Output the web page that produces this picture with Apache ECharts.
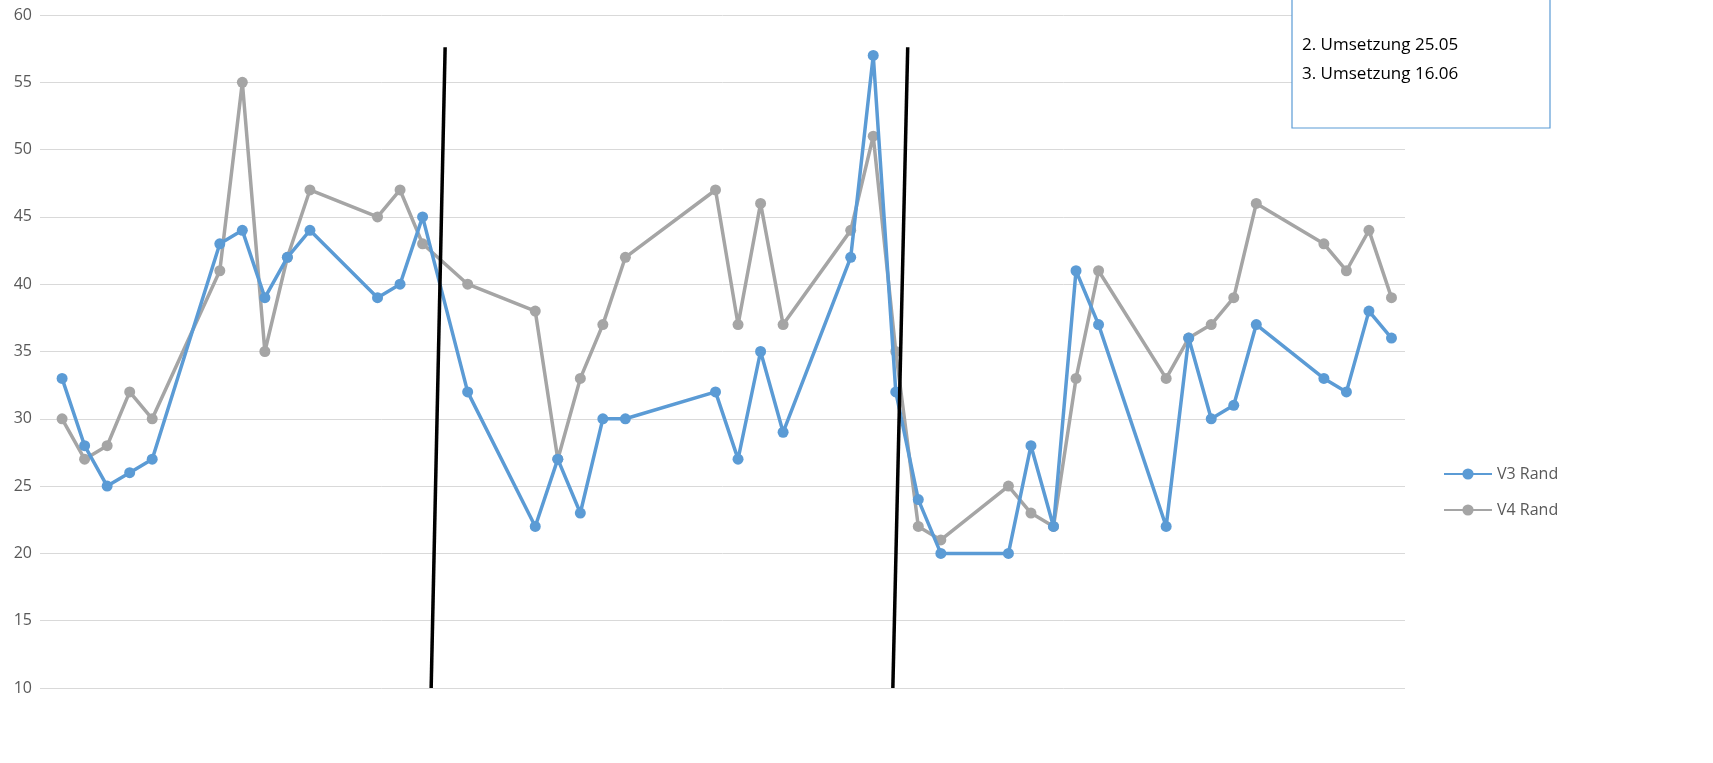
<!DOCTYPE html>
<html>
<head>
<meta charset="utf-8">
<script src="https://cdn.jsdelivr.net/npm/echarts@6/dist/echarts.min.js"></script>
<style>html,body{margin:0;background:#fff}#c{width:1713px;height:763px}</style>
</head>
<body>
<div id="c"></div>
<script>
// day index of each measurement
const days = [0,1,2,3,4,7,8,9,10,11,14,15,16,18,21,22,23,24,25,29,30,31,32,35,36,37,38,39,42,43,44,45,46,49,50,51,52,53,56,57,58,59];
const v3Rand = [33,28,25,26,27,43,44,39,42,44,39,40,45,32,22,27,23,30,30,32,27,35,29,42,57,32,24,20,20,28,22,41,37,22,36,30,31,37,33,32,38,36];
const v4Rand = [30,27,28,32,30,41,55,35,42,47,45,47,43,40,38,27,33,37,42,47,37,46,37,44,51,35,22,21,25,23,22,33,41,33,36,37,39,46,43,41,44,39];
// hand-drawn separators (x, y pairs)
const sep1 = [[17.0,57.6],[16.38,10]];
const sep2 = [[37.53,57.6],[36.87,10]];
const noteLines = ['2. Umsetzung 25.05', '3. Umsetzung 16.06'];

const pair = (xs, ys) => xs.map((x, i) => [x, ys[i]]);
const chart = echarts.init(document.getElementById('c'));
const font = '"Open Sans", "Noto Sans", sans-serif';
chart.setOption({
  animation: false,
  grid: {left: 40, right: 1713 - 1405, top: 15, bottom: 75},
  xAxis: {type: 'value', min: -0.98, max: 59.6, show: false},
  yAxis: {
    type: 'value', min: 10, max: 60, interval: 5,
    axisLine: {show: false}, axisTick: {show: false},
    axisLabel: {color: '#595959', fontSize: 16, fontFamily: font, margin: 8},
    splitLine: {lineStyle: {color: '#d9d9d9', width: 1}}
  },
  legend: {
    orient: 'vertical', left: 1438, top: 461, itemGap: 20,
    itemWidth: 48, itemHeight: 14,
    textStyle: {color: '#595959', fontSize: 16, fontFamily: font},
    data: ['V3 Rand', 'V4 Rand']
  },
  series: [
    {name: 'V3 Rand', type: 'line', data: pair(days, v3Rand), color: '#5B9BD5',
     symbol: 'circle', symbolSize: 11, lineStyle: {width: 3.5}, z: 3},
    {name: 'V4 Rand', type: 'line', data: pair(days, v4Rand), color: '#A5A5A5',
     symbol: 'circle', symbolSize: 11, lineStyle: {width: 3.5}, z: 2},
    {type: 'line', data: sep1, symbol: 'none', lineStyle: {color: '#000', width: 3.5}, z: 4, silent: true},
    {type: 'line', data: sep2, symbol: 'none', lineStyle: {color: '#000', width: 3.5}, z: 4, silent: true}
  ],
  graphic: [
    {type: 'rect', shape: {x: 1292, y: -20, width: 258, height: 148},
     style: {fill: '#fff', stroke: '#5B9BD5', lineWidth: 1.2}, z: 10},
    {type: 'text', left: 1302, top: 31, z: 11,
     style: {text: noteLines.join('\n'), fill: '#000', font: '17px ' + font, lineHeight: 29}}
  ]
});
</script>
</body>
</html>
